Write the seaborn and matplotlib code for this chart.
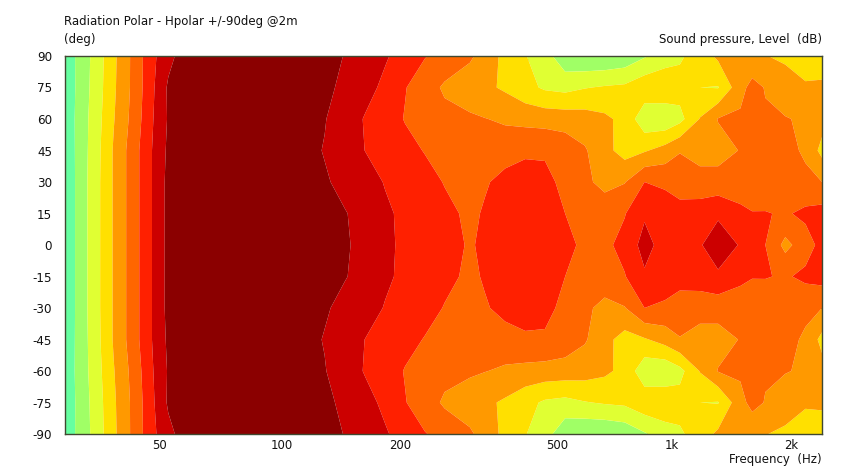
import numpy as np
import pandas as pd
import seaborn as sns
import matplotlib
matplotlib.use("Agg")
import matplotlib.pyplot as plt
from matplotlib.ticker import FixedLocator, NullFormatter

TITLE = "Radiation Polar - Hpolar +/-90deg @2m"
FREQ = [30, 35, 40, 45, 50, 55, 60, 70, 100, 118, 137, 154, 173, 195, 219, 246, 276,
        320, 349, 393, 442, 496, 558, 626, 703, 790, 887, 1000, 1090, 1226, 1363,
        1552, 1663, 1796, 2017, 2270, 2500]
ANGLE_POS = [0, 15, 30, 45, 60, 75, 90]
LEVEL_0 = [.2, 2.3, 4.1, 5.6, 7.0, 8.3, 8.8, 8.9, 8.7, 8.5, 8.3, 8.1, 7.75, 7.2, 6.8, 6.55, 6.35,
           5.9, 6.2, 6.5, 6.6, 6.5, 6.25, 5.8, 5.8, 6.3, 7.4, 6.5, 6.6, 6.9, 7.7,
           6.9, 6.5, 6.0, 4.7, 5.6, 6.3]
LEVEL_15 = [.2, 2.3, 4.1, 5.6, 7.0, 8.3, 8.8, 8.9, 8.7, 8.5, 8.25, 8.05, 7.7, 7.15, 6.8, 6.55, 6.25,
            5.8, 6.1, 6.5, 6.6, 6.4, 6.0, 5.7, 5.6, 5.95, 6.85, 6.6, 6.4, 6.6, 6.8,
            6.3, 6.05, 6.05, 5.9, 6.2, 6.4]
LEVEL_30 = [.2, 2.3, 4.1, 5.6, 7.0, 8.3, 8.8, 8.9, 8.65, 8.4, 8.1, 7.75, 7.35, 6.95, 6.65, 6.35, 5.95,
            5.6, 5.9, 6.3, 6.4, 6.2, 5.8, 5.2, 4.7, 4.95, 6.0, 5.8, 5.5, 5.3, 5.4,
            5.3, 5.35, 5.4, 5.5, 5.3, 5.0]
LEVEL_45 = [.25, 2.25, 4.1, 5.6, 7.0, 8.2, 8.8, 8.9, 8.6, 8.35, 7.95, 7.5, 7.0, 6.6, 6.3, 5.95, 5.75,
            5.55, 5.5, 5.6, 5.85, 5.9, 5.6, 5.1, 4.3, 3.6, 3.9, 4.4, 4.95, 4.7, 4.6,
            5.05, 5.15, 5.3, 5.4, 4.8, 3.7]
LEVEL_60 = [.3, 2.2, 3.95, 5.4, 6.9, 8.1, 8.7, 8.9, 8.55, 8.3, 8.05, 7.45, 6.95, 6.45, 5.95, 5.7, 5.3,
            5.15, 5.03, 4.85, 4.7, 4.6, 4.55, 4.45, 4.2, 3.7, 2.3, 2.2, 2.7, 4.05, 5.05,
            5.15, 5.03, 5.1, 5.02, 4.95, 4.4]
LEVEL_75 = [.3, 2.1, 3.85, 5.3, 6.8, 8.15, 8.6, 8.9, 8.5, 8.3, 8.15, 7.85, 7.3, 6.8, 6.05, 5.45, 4.85,
            4.45, 4.2, 3.85, 3.3, 2.85, 2.7, 2.95, 3.1, 3.2, 3.7, 3.8, 3.4, 3.0, 2.95,
            4.7, 5.3, 4.95, 4.8, 4.1, 4.1]
LEVEL_90 = [.35, 2.05, 3.8, 5.3, 6.75, 7.7, 8.4, 8.9, 8.45, 8.3, 8.2, 7.98, 7.5, 7.1, 6.6, 6.05, 5.65,
            5.15, 4.6, 3.7, 3.05, 2.4, 1.3, 1.1, 1.1, 1.3, 1.9, 2.5, 2.85, 3.5, 4.2,
            4.3, 4.3, 4.05, 3.7, 3.6, 3.7]
BAND_COLORS = ["#66FFA0", "#A0FF66", "#E0FF33", "#FFE000", "#FF9900",
               "#FF6600", "#FF2000", "#CC0000", "#8B0000"]
BAND_EDGES = [0, 1, 2, 3, 4, 5, 6, 7, 8, 9]
MAJOR_FREQ = [50, 100, 200, 500, 1000, 2000]
MAJOR_LABELS = ["50", "100", "200", "500", "1k", "2k"]
MINOR_FREQ = [35, 40, 45, 60, 70, 80, 90, 150, 250, 300, 350, 400, 450, 600, 700, 800, 900, 1500]
ANGLE_TICKS = [-90, -75, -60, -45, -30, -15, 0, 15, 30, 45, 60, 75, 90]

sns.set_theme(style="white")
plt.rcParams["font.family"] = ["DejaVu Sans"]
plt.rcParams["axes.unicode_minus"] = False

rows = [LEVEL_0, LEVEL_15, LEVEL_30, LEVEL_45, LEVEL_60, LEVEL_75, LEVEL_90]
table = pd.DataFrame(rows, index=ANGLE_POS, columns=FREQ)
mirror = table.drop(index=0).copy()
mirror.index = [-a for a in mirror.index]
table = pd.concat([table, mirror]).sort_index()

W, H = 848, 469
fig = plt.figure(figsize=(W / 100, H / 100), dpi=100, facecolor="white")
ax = fig.add_axes([64.5 / W, 1 - 434 / H, (822 - 64.5) / W, (434 - 56) / H])

palette = sns.color_palette(BAND_COLORS)
ax.contourf(table.columns.values, table.index.values, table.values,
            levels=BAND_EDGES, colors=palette, antialiased=True)
ax.set_xscale("log")
ax.set_xlim(30, 2500)
ax.set_ylim(-90, 90)

ax.set_xticks(MAJOR_FREQ, MAJOR_LABELS, ha="left")
ax.xaxis.set_minor_locator(FixedLocator(MINOR_FREQ))
ax.xaxis.set_minor_formatter(NullFormatter())
ax.set_yticks(ANGLE_TICKS)
ax.tick_params(axis="x", which="both", direction="in", length=3, width=0.7, color="#999999",
               top=True, bottom=True, labelsize=8.4, labelcolor="#111111", pad=3.5)
ax.tick_params(axis="y", which="major", direction="in", length=3, width=0.7, color="#444444",
               left=True, right=True, labelsize=8.6, labelcolor="#111111", pad=9)
for sp in ax.spines.values():
    sp.set_color("#404830")
    sp.set_linewidth(1.0)

def put(x, y, s, ha="left", size=8.45):
    fig.text(x / W, 1 - y / H, s, ha=ha, va="center", fontsize=size, color="#111111")

put(64, 21, TITLE)
put(64, 39, "(deg)")
put(822, 39, "Sound pressure, Level  (dB)", ha="right")
put(822, 459, "Frequency  (Hz)", ha="right")

fig.savefig("out.png", dpi=100)
